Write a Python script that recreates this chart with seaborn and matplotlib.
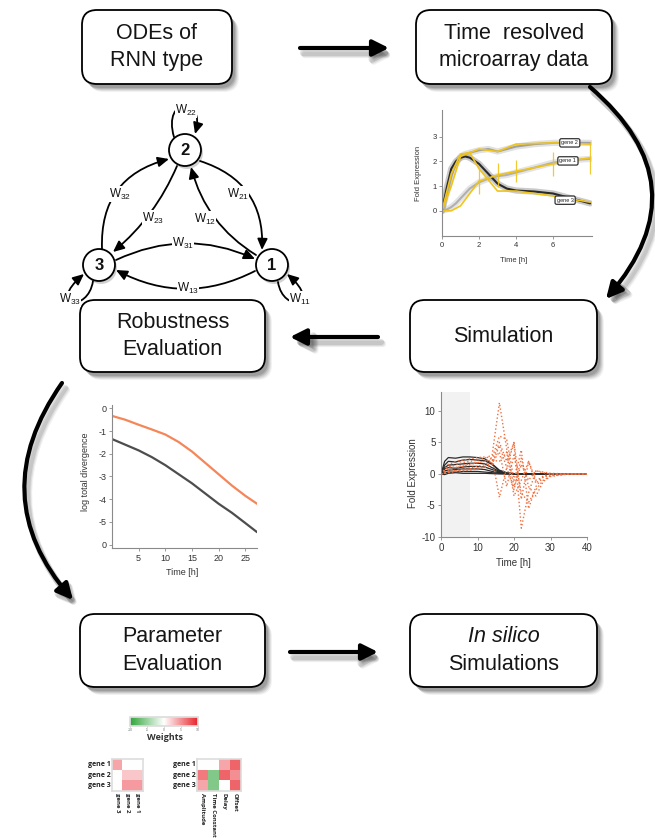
import numpy as np
import pandas as pd
import matplotlib
matplotlib.use("Agg")
import matplotlib.pyplot as plt
import seaborn as sns
from matplotlib.patches import FancyBboxPatch, FancyArrowPatch, Circle
from matplotlib.path import Path
from matplotlib.colors import LinearSegmentedColormap

# ---------------- data ----------------
# panel "Time resolved microarray data"
fit_time = [0, 0.25, 0.5, 0.75, 1, 1.25, 1.5, 2, 2.5, 3, 3.5, 4, 5, 6, 7, 8]
fit_gene1 = [0, 0.05, 0.15, 0.3, 0.5, 0.7, 0.9, 1.15, 1.3, 1.4, 1.45, 1.55, 1.75, 1.95, 2.05, 2.1]
fit_gene2 = [0, 0.7, 1.4, 1.9, 2.2, 2.3, 2.35, 2.45, 2.5, 2.4, 2.5, 2.6, 2.7, 2.75, 2.75, 2.75]
fit_gene3 = [0, 0.9, 1.7, 2.0, 2.15, 2.2, 2.15, 1.9, 1.5, 1.1, 0.9, 0.82, 0.78, 0.7, 0.5, 0.3]
data_time = [0, 0.5, 1, 1.5, 2, 3, 4, 6, 8]
data_gene1 = [0, 0.0, 0.2, 0.7, 1.2, 1.45, 1.6, 1.9, 2.15]
data_gene2 = [0, 1.0, 2.2, 2.35, 2.5, 2.4, 2.7, 2.75, 2.7]
data_gene3 = [0, 1.5, 2.3, 2.35, 1.7, 0.8, 0.8, 0.6, 0.35]
data_err1 = [0, 0, 0, 0, 0.5, 0.5, 0.45, 0.5, 0.65]
gene_names = ["gene 1", "gene 2", "gene 3"]
gene_label_t = [6.8, 6.9, 6.65]
gene_label_v = [2.02, 2.75, 0.43]

# panel "Simulation"
sim_time_b = [0, 1, 2, 4, 6, 8, 10, 12, 14, 16, 18, 20, 25, 40]
sim_b1 = [0, 2.0, 2.6, 2.5, 2.7, 2.7, 2.6, 2.4, 1.6, 0.6, 0.2, 0.05, 0, 0]
sim_b2 = [0, 1.4, 2.0, 1.9, 2.2, 2.3, 2.2, 2.1, 1.5, 0.5, 0.15, 0.05, 0, 0]
sim_b3 = [0, 1.0, 1.4, 1.5, 1.6, 1.7, 1.7, 1.6, 1.0, 0.4, 0.1, 0, 0, 0]
sim_b4 = [0, 0.8, 1.0, 0.9, 1.1, 1.2, 1.2, 1.1, 0.7, 0.3, 0.1, 0, 0, 0]
sim_b5 = [0, 0.5, 0.6, 0.7, 0.8, 0.8, 0.8, 0.7, 0.4, 0.2, 0.05, 0, 0, 0]
sim_b6 = [0, 0.2, 0.3, 0.3, 0.4, 0.4, 0.4, 0.3, 0.2, 0.1, 0, 0, 0, 0]
sim_b7 = [0, -0.1, 0.1, 0.2, 0.1, 0.1, 0.1, 0.1, 0.05, 0, 0, 0, 0, 0]
sim_time_o = [0, 2, 4, 6, 8, 10, 12, 14, 16, 18, 20, 22, 24, 26, 28, 30, 35, 40]
sim_o1 = [0, 1.0, 1.5, 1.8, 2.0, 2.2, 2.5, 3.0, 11.3, 4.0, -2.0, 1.5, -1.0, 0.5, 0.2, 0, 0, 0]
sim_o2 = [0, 0.5, 1.0, 1.2, 1.5, 1.8, 2.0, 2.5, -3.7, 1.0, 5.0, -8.6, -3.0, 0.5, 0.3, 0.1, 0, 0]
sim_o3 = [0, 1.5, 2.0, 2.2, 2.4, 2.6, 2.7, 2.5, 6.0, 5.5, -1.0, 3.8, -5.5, -2.0, -0.5, 0, 0, 0]
sim_o4 = [0, 0.8, 0.5, 0.8, 1.0, 1.2, 1.5, 2.0, 5.0, 2.0, 5.0, -4.0, 2.0, -1.5, -0.3, 0, 0, 0]
sim_o5 = [0, 0.3, 0.5, 0.6, 0.8, 1.0, 1.2, 1.8, 3.5, -2.0, 3.0, -3.0, -4.5, -2.5, -1.0, -0.3, 0, 0]
sim_o6 = [0, 1.2, 1.0, 1.4, 1.6, 1.8, 2.0, 2.2, 2.0, 3.5, -3.5, -1.0, 2.0, -1.0, -0.5, -0.2, 0, 0]
sim_o7 = [0, 0.2, 0.4, 0.5, 0.6, 0.8, 1.0, 1.5, 4.5, 1.0, -2.5, 2.5, -2.0, -3.5, -1.2, -0.4, 0, 0]

# panel "Robustness Evaluation"
rob_time = [0, 2.5, 5, 7.5, 10, 12.5, 15, 17.5, 20, 22.5, 25, 27.2]
rob_orange = [-0.33, -0.5, -0.72, -0.93, -1.15, -1.48, -1.9, -2.4, -2.9, -3.4, -3.85, -4.2]
rob_black = [-1.35, -1.6, -1.85, -2.15, -2.5, -2.9, -3.3, -3.75, -4.2, -4.6, -5.05, -5.45]
rob_yticks = [0, -1, -2, -3, -4, -5, -6]
rob_yticklabels = ["0", "-1", "-2", "-3", "-4", "-5", "0"]

# panel "Parameter Evaluation"
w_rows = ["gene 1", "gene 2", "gene 3"]
w_cols = ["gene 3", "gene 2", "gene 1"]
w_values = [[4, 0, 0], [0, 2.5, 2.5], [0, 4.5, 4.5]]
p_cols = ["Amplitude", "Time Constant", "Delay", "Offset"]
p_values = [[0, 0, 4, 7], [6, -6, 7, 5], [4, -6, 0, 7]]
cbar_ticks = [-10, -5, 0, 5, 10]

# ---------------- figure ----------------
FIG_W, FIG_H = 655, 838
sns.set_theme(style="ticks")
plt.rcParams['font.family'] = ['Liberation Sans', 'DejaVu Sans']
plt.rcParams['axes.unicode_minus'] = False
plt.rcParams['mathtext.fontset'] = 'custom'
plt.rcParams['mathtext.rm'] = 'Liberation Sans'

fig = plt.figure(figsize=(FIG_W / 100, FIG_H / 100), dpi=100)
fig.patch.set_facecolor('white')
bg = fig.add_axes([0, 0, 1, 1])
bg.set_xlim(0, FIG_W)
bg.set_ylim(FIG_H, 0)
bg.axis('off')


def px_rect(l, t, r, b):
    return [l / FIG_W, 1 - b / FIG_H, (r - l) / FIG_W, (b - t) / FIG_H]


def box(l, t, r, b, lines, italic_first=False):
    for dx, dy, a in [(7, 8, 0.05), (6, 7, 0.07), (5, 6, 0.09), (4, 5, 0.11), (3, 4, 0.12)]:
        bg.add_patch(FancyBboxPatch((l + dx, t + dy), r - l, b - t,
                                    boxstyle="round,pad=0,rounding_size=15",
                                    fc='black', ec='none', alpha=a, zorder=1))
    bg.add_patch(FancyBboxPatch((l, t), r - l, b - t,
                                boxstyle="round,pad=0,rounding_size=15",
                                fc='white', ec='black', lw=1.3, zorder=2))
    cx = (l + r) / 2
    cy = (t + b) / 2
    n = len(lines)
    for i, s in enumerate(lines):
        y = cy + (i - (n - 1) / 2) * 27.5
        bg.text(cx, y, s, fontsize=15.5, ha='center', va='center', zorder=3,
                color='#151515',
                style='italic' if (italic_first and i == 0) else 'normal')


def big_arrow(p1, p2, rad=0.0):
    cs = f"arc3,rad={rad}"
    for k, a in [(5, 0.06), (4, 0.08), (3, 0.1)]:
        bg.add_patch(FancyArrowPatch((p1[0] + k, p1[1] + k + 2), (p2[0] + k, p2[1] + k + 2),
                                     arrowstyle='-|>,head_length=0.6,head_width=0.3',
                                     mutation_scale=16, lw=4.5, color='black', alpha=a,
                                     connectionstyle=cs, shrinkA=0, shrinkB=0, zorder=1))
    bg.add_patch(FancyArrowPatch(p1, p2, arrowstyle='-|>,head_length=0.6,head_width=0.3',
                                 mutation_scale=16, lw=3, color='black',
                                 connectionstyle=cs, shrinkA=0, shrinkB=0, zorder=4))


# boxes
box(82, 10, 232, 84, ["ODEs of", "RNN type"])
box(416, 10, 612, 84, ["Time  resolved", "microarray data"])
box(80, 300, 265, 372, ["Robustness", "Evaluation"])
box(410, 300, 597, 372, ["Simulation"])
box(80, 614, 265, 687, ["Parameter", "Evaluation"])
box(410, 614, 597, 687, ["In silico", "Simulations"], italic_first=True)

# arrows
big_arrow((300, 48), (389, 48))
big_arrow((378, 337), (290, 337))
big_arrow((290, 652), (378, 652))
big_arrow((590, 87), (606, 299), rad=-0.5)
big_arrow((62, 383), (73, 600), rad=0.39)

# ---------------- network ----------------
nodes = {"1": (272, 265), "2": (185, 150), "3": (99, 265)}
R = 16
for name, (x, y) in nodes.items():
    bg.add_patch(Circle((x + 2, y + 3), R, fc='black', ec='none', alpha=0.18, zorder=4))
    bg.add_patch(Circle((x, y), R, fc='white', ec='black', lw=1.3, zorder=5))
    bg.text(x, y + 0.5, name, fontsize=12, ha='center', va='center', zorder=6,
            fontweight='bold', color='#111111')

edge_style = '-|>,head_length=0.55,head_width=0.25'
edges = [((102, 249), (169, 159), -0.4),
         ((200, 161), (262, 250), -0.38),
         ((177, 166), (113, 252), -0.12),
         ((256, 255), (191, 167), -0.2),
         ((116, 260), (255, 259), -0.23),
         ((255, 271), (116, 270), -0.26)]
for p1, p2, rad in edges:
    bg.add_patch(FancyArrowPatch(p1, p2, arrowstyle=edge_style, mutation_scale=12,
                                 lw=1.3, color='black', connectionstyle=f"arc3,rad={rad}",
                                 shrinkA=0, shrinkB=0, zorder=4))

loops = [[(174, 137), (162, 96), (206, 96), (195, 134)],
         [(93, 281), (88, 314), (46, 306), (84, 274)],
         [(278, 282), (283, 314), (324, 306), (287, 274)]]
for pts in loops:
    path = Path(pts, [Path.MOVETO, Path.CURVE4, Path.CURVE4, Path.CURVE4])
    bg.add_patch(FancyArrowPatch(path=path, arrowstyle=edge_style, mutation_scale=12,
                                 lw=1.3, color='black', shrinkA=0, shrinkB=0, zorder=4))

w_labels = [(186, 110, "22"), (120, 194, "32"), (153, 218, "23"), (205, 219, "12"),
            (238, 194, "21"), (183, 243, "31"), (188, 288, "13"), (70, 299, "33"),
            (300, 299, "11")]
for x, y, sub in w_labels:
    bg.text(x, y, r"$\mathregular{W_{" + sub + r"}}$", fontsize=8.5, ha='center', va='center',
            zorder=7, color='#111111', bbox=dict(fc='white', ec='none', pad=0.2))


def style_axis(ax, size):
    sns.despine(ax=ax)
    for s in ['left', 'bottom']:
        ax.spines[s].set_color('#8a8a8a')
        ax.spines[s].set_linewidth(0.8)
    ax.tick_params(labelsize=size, colors='#8a8a8a', labelcolor='#333333',
                   length=2.5, width=0.6, pad=1.5)
    ax.set_xlabel('')
    ax.set_ylabel('')
    ax.patch.set_alpha(0)


# ---------------- panel 1: microarray data ----------------
ax1 = fig.add_axes(px_rect(442, 110, 592, 236))
fit_df = pd.DataFrame({'t': fit_time * 3,
                       'v': fit_gene1 + fit_gene2 + fit_gene3,
                       'gene': [g for g in gene_names for _ in fit_time]})
data_df = pd.DataFrame({'t': data_time * 3,
                        'v': data_gene1 + data_gene2 + data_gene3,
                        'gene': [g for g in gene_names for _ in data_time]})
sns.lineplot(data=fit_df, x='t', y='v', hue='gene', legend=False, ax=ax1, lw=4.5, alpha=0.45,
             palette={'gene 1': '#c4c4c4', 'gene 2': '#bdbdbd', 'gene 3': '#8a8a8a'})
sns.lineplot(data=fit_df, x='t', y='v', hue='gene', legend=False, ax=ax1, lw=1.5,
             palette={'gene 1': '#b0b0b0', 'gene 2': '#a0a0a0', 'gene 3': '#2a2a2a'})
sns.lineplot(data=data_df, x='t', y='v', hue='gene', legend=False, ax=ax1, lw=1.2,
             palette={'gene 1': '#f0c419', 'gene 2': '#f0c419', 'gene 3': '#f0c419'})
ax1.errorbar(data_time, data_gene1, yerr=data_err1, fmt='none', ecolor='#f0c419',
             elinewidth=0.9, alpha=0.9)
for g, t, v in zip(gene_names, gene_label_t, gene_label_v):
    ax1.text(t, v, g, fontsize=4, ha='center', va='center', color='#222222',
             bbox=dict(boxstyle='round,pad=0.3', fc='white', ec='#333333', lw=0.9))
ax1.set_xlim(0, 8.1)
ax1.set_ylim(-1.02, 4.08)
ax1.set_xticks([0, 2, 4, 6])
ax1.set_yticks([0, 1, 2, 3])
style_axis(ax1, 5.5)
bg.text(418, 173, "Fold Expression", rotation=90, fontsize=5.5, ha='center', va='center',
        color='#333333')
bg.text(514, 260, "Time [h]", fontsize=5.5, ha='center', va='center', color='#333333')

# ---------------- panel 2: simulation ----------------
ax2 = fig.add_axes(px_rect(441, 392, 587, 537))
ax2.axvspan(0, 8, color='#f2f2f2', lw=0, zorder=0)
sim_b = [sim_b1, sim_b2, sim_b3, sim_b4, sim_b5, sim_b6, sim_b7]
sim_o = [sim_o1, sim_o2, sim_o3, sim_o4, sim_o5, sim_o6, sim_o7]
dfb = pd.DataFrame({'t': sim_time_b * len(sim_b), 'v': sum(sim_b, []),
                    'run': [i for i in range(len(sim_b)) for _ in sim_time_b]})
dfo = pd.DataFrame({'t': sim_time_o * len(sim_o), 'v': sum(sim_o, []),
                    'run': [i for i in range(len(sim_o)) for _ in sim_time_o]})
sns.lineplot(data=dfb, x='t', y='v', units='run', estimator=None, color='#2b2b2b', lw=0.9, ax=ax2)
sns.lineplot(data=dfo, x='t', y='v', units='run', estimator=None, color='#f07040', lw=1.0,
             linestyle=':', ax=ax2)
ax2.set_xlim(0, 40)
ax2.set_ylim(-10, 13)
ax2.set_xticks([0, 10, 20, 30, 40])
ax2.set_yticks([-10, -5, 0, 5, 10])
style_axis(ax2, 7)
bg.text(413, 473, "Fold Expression", rotation=90, fontsize=7, ha='center', va='center',
        color='#333333')
bg.text(513, 563, "Time [h]", fontsize=7, ha='center', va='center', color='#333333')

# ---------------- panel 3: robustness ----------------
ax3 = fig.add_axes(px_rect(112, 405, 257, 548))
df3 = pd.DataFrame({'t': rob_time * 2, 'v': rob_orange + rob_black,
                    'series': ['orange'] * len(rob_time) + ['black'] * len(rob_time)})
sns.lineplot(data=df3, x='t', y='v', hue='series', legend=False, ax=ax3, lw=1.6,
             palette={'orange': '#f4865a', 'black': '#4d4d4d'})
ax3.set_xlim(0, 27.2)
ax3.set_ylim(-6.15, 0.15)
ax3.set_xticks([5, 10, 15, 20, 25])
ax3.set_yticks(rob_yticks)
ax3.set_yticklabels(rob_yticklabels)
style_axis(ax3, 6.5)
bg.text(85, 472, "log total divergence", rotation=90, fontsize=6.5, ha='center', va='center',
        color='#333333')
bg.text(182, 572, "Time [h]", fontsize=6.5, ha='center', va='center', color='#333333')

# ---------------- heatmaps ----------------
cmap = LinearSegmentedColormap.from_list("gwr", ["#2fa43a", "#ffffff", "#e8222a"])
hfont = ['Open Sans', 'DejaVu Sans']

axh1 = fig.add_axes(px_rect(112, 759, 143, 791))
sns.heatmap(pd.DataFrame(w_values, index=w_rows, columns=w_cols), ax=axh1, cmap=cmap,
            vmin=-10, vmax=10, cbar=False, xticklabels=True, yticklabels=True)
axh2 = fig.add_axes(px_rect(197, 759, 241, 791))
sns.heatmap(pd.DataFrame(p_values, index=w_rows, columns=p_cols), ax=axh2, cmap=cmap,
            vmin=-10, vmax=10, cbar=False, xticklabels=True, yticklabels=True)
for axh in (axh1, axh2):
    axh.tick_params(length=0, pad=1.2)
    axh.set_xlabel('')
    axh.set_ylabel('')
    for lab in axh.get_yticklabels():
        lab.set_rotation(0)
        lab.set_fontsize(5)
        lab.set_fontweight('bold')
        lab.set_family(hfont)
        lab.set_color('#222222')
    for lab in axh.get_xticklabels():
        lab.set_rotation(270)
        lab.set_va('top')
        lab.set_ha('center')
        lab.set_fontsize(4.3)
        lab.set_fontweight('bold')
        lab.set_family(hfont)
        lab.set_color('#222222')
    for s in axh.spines.values():
        s.set_visible(True)
        s.set_color('#dddddd')
        s.set_linewidth(1.2)

cax = fig.add_axes(px_rect(130, 717, 198, 726))
cb = fig.colorbar(axh2.collections[0], cax=cax, orientation='horizontal')
cb.set_ticks(cbar_ticks)
cb.ax.tick_params(labelsize=2.5, length=1, width=0.4, pad=0.3, colors='#777777')
cb.outline.set_edgecolor('#dddddd')
bg.text(165, 737, "Weights", fontsize=6.5, ha='center', va='center', color='#333333',
        family=hfont, fontweight='bold')

fig.savefig("out.png", dpi=100, facecolor='white')
